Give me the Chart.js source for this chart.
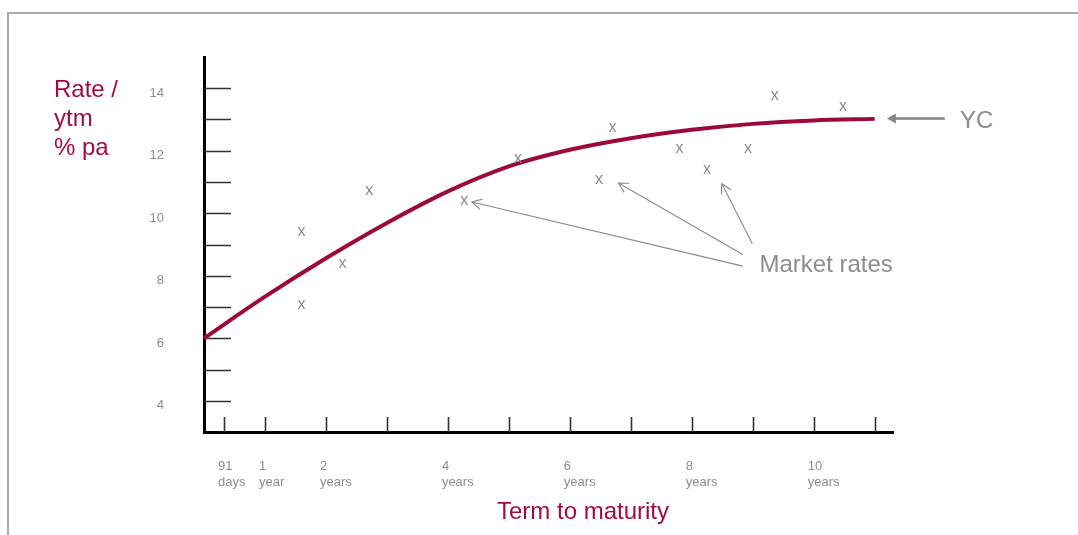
<!DOCTYPE html>
<html><head><meta charset="utf-8">
<script src="https://cdn.jsdelivr.net/npm/chart.js@4.4.1/dist/chart.umd.min.js"></script>
<style>
html,body{margin:0;padding:0;background:#fff;overflow:hidden;}
#wrap{position:relative;width:1078px;height:535px;overflow:hidden;}
#frame{position:absolute;left:7px;top:12px;width:1100px;height:600px;border-left:2px solid #aaaaaa;border-top:2px solid #aaaaaa;}
canvas{position:absolute;left:0;top:0;}
</style></head><body>
<div id="wrap"><div id="frame"></div><canvas id="c" width="1078" height="535"></canvas></div>
<script>
// ---- Data ----
// Yield curve: term (years) and rate (% pa)
const curveTerms = [0, 1, 2, 3, 4, 5, 6, 7, 8, 9, 10, 11];
const curveRates = [6.00, 7.33, 8.56, 9.69, 10.70, 11.50, 12.03, 12.40, 12.67, 12.86, 12.97, 13.02];
// Market rates (scattered "x" marks)
const marketTerms = [1.60, 1.60, 2.27, 2.71, 4.27, 5.15, 6.48, 6.70, 7.80, 8.25, 8.92, 9.36, 10.48];
const marketRates = [9.42, 7.07, 8.37, 10.71, 10.39, 11.75, 11.08, 12.73, 12.07, 11.40, 12.07, 13.75, 13.40];
// Axis ticks
const xTickValues = [0.33, 1, 2, 3, 4, 5, 6, 7, 8, 9, 10, 11];
const xTickLabels = [['91', 'days'], ['1', 'year'], ['2', 'years'], '', ['4', 'years'], '', ['6', 'years'], '', ['8', 'years'], '', ['10', 'years'], ''];
const yTickMarks = [4, 5, 6, 7, 8, 9, 10, 11, 12, 13, 14];
const yTickLabels = [4, 6, 8, 10, 12, 14];
// Texts
const yTitleLines = ['Rate /', 'ytm', '% pa'];
const xTitle = 'Term to maturity';
const ycText = 'YC';
const marketText = 'Market rates';

// ---- Annotation placement (data units) ----
const ycArrow = { from: [12.15, 13.03], to: [11.20, 13.03] };
const ycLabelAt = [12.40, 12.73];
const marketLabelAt = [9.11, 8.115];
const marketArrows = [
  { from: [8.836, 8.308], to: [4.393, 10.359] },
  { from: [8.836, 8.683], to: [6.797, 10.968] },
  { from: [8.993, 9.026], to: [8.492, 10.949] }
];

// ---- Styles ----
const FONT = '"Liberation Sans", Arial, Helvetica, sans-serif';
const RED = '#9b0a3b';
const RED_TEXT = '#a30a40';
const GRAY = '#8c8c8c';

const decor = {
  id: 'decor',
  beforeDatasetsDraw(chart) {
    const ctx = chart.ctx, xs = chart.scales.x, ys = chart.scales.y, ca = chart.chartArea;
    ctx.save();
    ctx.strokeStyle = '#333333';
    ctx.lineWidth = 1.6;
    ctx.beginPath();
    yTickMarks.forEach(v => { const y = Math.round(ys.getPixelForValue(v)) + 0.5; ctx.moveTo(ca.left, y); ctx.lineTo(ca.left + 27, y); });
    xTickValues.forEach(v => { const x = Math.round(xs.getPixelForValue(v)) + 0.5; ctx.moveTo(x, ca.bottom); ctx.lineTo(x, ca.bottom - 15); });
    ctx.stroke();
    ctx.restore();
  },
  afterDatasetsDraw(chart) {
    const ctx = chart.ctx, xs = chart.scales.x, ys = chart.scales.y, ca = chart.chartArea;
    const P = a => [xs.getPixelForValue(a[0]), ys.getPixelForValue(a[1])];
    ctx.save();
    // market rate marks
    const meta = chart.getDatasetMeta(1);
    ctx.fillStyle = '#8a8a8a';
    ctx.font = '16px ' + FONT;
    ctx.textAlign = 'center';
    ctx.textBaseline = 'alphabetic';
    meta.data.forEach(p => ctx.fillText('x', p.x, p.y + 4.2));

    // YC arrow (filled head)
    const [fx, fy] = P(ycArrow.from), [tx, ty] = P(ycArrow.to);
    ctx.strokeStyle = '#858585';
    ctx.fillStyle = '#858585';
    ctx.lineWidth = 2.6;
    ctx.beginPath(); ctx.moveTo(fx, fy); ctx.lineTo(tx + 7, ty); ctx.stroke();
    ctx.beginPath(); ctx.moveTo(tx, ty); ctx.lineTo(tx + 9, ty - 5); ctx.lineTo(tx + 9, ty + 5); ctx.closePath(); ctx.fill();

    // Market-rate arrows (open heads)
    ctx.lineWidth = 1.1;
    ctx.strokeStyle = '#8a8a8a';
    marketArrows.forEach(a => {
      const [x1, y1] = P(a.from), [x2, y2] = P(a.to);
      const ang = Math.atan2(y1 - y2, x1 - x2);
      const L = 11, h = 0.5;
      ctx.beginPath();
      ctx.moveTo(x1, y1); ctx.lineTo(x2, y2);
      ctx.moveTo(x2 + L * Math.cos(ang + h), y2 + L * Math.sin(ang + h));
      ctx.lineTo(x2, y2);
      ctx.lineTo(x2 + L * Math.cos(ang - h), y2 + L * Math.sin(ang - h));
      ctx.stroke();
    });

    // annotation texts
    ctx.font = '24px ' + FONT;
    ctx.textAlign = 'left';
    ctx.fillStyle = GRAY;
    let p = P(ycLabelAt); ctx.fillText(ycText, p[0], p[1]);
    p = P(marketLabelAt); ctx.fillText(marketText, p[0], p[1]);

    // axis titles
    ctx.fillStyle = RED_TEXT;
    yTitleLines.forEach((t, i) => ctx.fillText(t, ca.left - 150, ca.top + 40 + i * 29.2));
    ctx.textAlign = 'center';
    ctx.fillText(xTitle, ca.left + 379, ca.bottom + 86.5);
    ctx.restore();
  }
};

new Chart(document.getElementById('c'), {
  data: {
    datasets: [
      {
        type: 'line',
        label: 'YC',
        data: curveTerms.map((t, i) => ({ x: t, y: curveRates[i] })),
        borderColor: RED,
        borderWidth: 4,
        pointRadius: 0,
        fill: false,
        tension: 0.4,
        cubicInterpolationMode: 'monotone',
        clip: false
      },
      {
        type: 'scatter',
        label: 'Market rates',
        data: marketTerms.map((t, i) => ({ x: t, y: marketRates[i] })),
        pointRadius: 0,
        pointHoverRadius: 0,
        showLine: false
      }
    ]
  },
  options: {
    responsive: false,
    animation: false,
    events: [],
    devicePixelRatio: 1,
    layout: { padding: { left: 0, top: 57, right: 185, bottom: 0 } },
    plugins: { legend: { display: false }, tooltip: { enabled: false }, title: { display: false } },
    scales: {
      x: {
        type: 'linear', min: 0, max: 11.3,
        afterBuildTicks: s => { s.ticks = xTickValues.map(v => ({ value: v })); },
        afterFit: s => { s.height = 103; },
        grid: { display: false, drawTicks: false },
        border: { display: true, color: '#000000', width: 3 },
        ticks: {
          autoSkip: false, maxRotation: 0, minRotation: 0, align: 'start', labelOffset: -6, padding: 27,
          color: GRAY, font: { family: FONT, size: 13, lineHeight: 1.2 },
          callback: (v, i) => xTickLabels[i]
        }
      },
      y: {
        type: 'linear', min: 3, max: 15,
        afterBuildTicks: s => { s.ticks = yTickLabels.map(v => ({ value: v })); },
        afterFit: s => { s.width = 204; },
        grid: { display: false, drawTicks: false },
        border: { display: true, color: '#000000', width: 3 },
        ticks: {
          autoSkip: false, padding: 40, labelOffset: 5,
          color: GRAY, font: { family: FONT, size: 13 },
          callback: v => String(v)
        }
      }
    }
  },
  plugins: [decor]
});
</script>
</body></html>
